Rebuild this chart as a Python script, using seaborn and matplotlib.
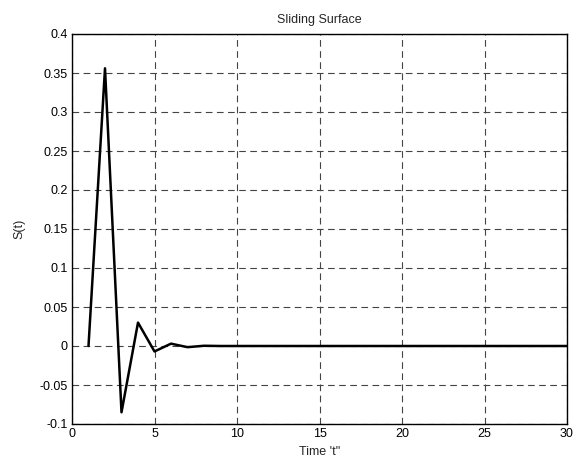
import numpy as np
import pandas as pd
import matplotlib.pyplot as plt
import seaborn as sns

time_t = list(range(1, 31))
s_vals = [0.0, 0.356, -0.085, 0.030, -0.007, 0.003, -0.0015, 0.0003] + [0.0] * 22

x_ticks = [0, 5, 10, 15, 20, 25, 30]
y_ticks = [-0.1, -0.05, 0, 0.05, 0.1, 0.15, 0.2, 0.25, 0.3, 0.35, 0.4]

sns.set_style('white')
plt.rcParams['font.family'] = ['Liberation Sans', 'DejaVu Sans']

df = pd.DataFrame({'t': time_t, 's': s_vals})

fig = plt.figure(figsize=(5.73, 4.63), dpi=100)
ax = fig.add_axes([72 / 573, 1 - 424 / 463, (567 - 72) / 573, (424 - 34) / 463])
sns.lineplot(data=df, x='t', y='s', color='black', linewidth=1.8, ax=ax)

ax.set_xlim(0, 30)
ax.set_ylim(-0.1, 0.4)
ax.set_xticks(x_ticks)
ax.set_yticks(y_ticks)
ax.set_yticklabels([f'{v:g}' for v in y_ticks])
ax.grid(True, color='#444444', linestyle=(0, (6, 4)), linewidth=0.8)
for sp in ax.spines.values():
    sp.set_color('black')
    sp.set_linewidth(1.0)
ax.tick_params(axis='both', labelsize=9, direction='in', length=4, colors='black', pad=3)
ax.set_xlabel('Time \'t"', fontsize=9, labelpad=4)
ax.set_ylabel('S(t)', fontsize=9, labelpad=10)
ax.set_title('Sliding Surface', fontsize=9, pad=8)

fig.savefig('out.png', dpi=100)
